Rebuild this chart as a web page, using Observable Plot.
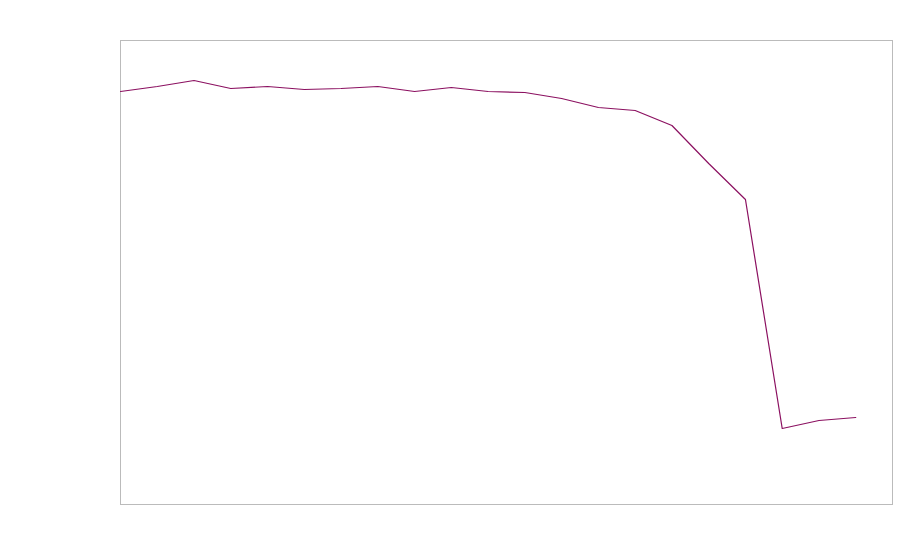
<!DOCTYPE html>
<html>
<head>
<meta charset="utf-8">
<script src="https://cdn.jsdelivr.net/npm/d3@7"></script>
<script src="https://cdn.jsdelivr.net/npm/@observablehq/plot@0.6"></script>
<style>
  html, body { margin: 0; padding: 0; background: #fff; }
</style>
</head>
<body>
<div id="chart"></div>
<script>
// Index of each observation (no labels are shown in the chart)
const periods = [0,1,2,3,4,5,6,7,8,9,10,11,12,13,14,15,16,17,18,19,20];
// Estimated values (arbitrary units)
const values = [413,418,424,416,418,415,416,418,413,417,413,412,406,397,394,379,341,305,76,84,87];

const data = periods.map((p, i) => ({period: p, value: values[i]}));

const chart = Plot.plot({
  width: 900,
  height: 560,
  marginLeft: 120,
  marginRight: 8,
  marginTop: 40,
  marginBottom: 56,
  x: {domain: [0, 21], axis: null},
  y: {domain: [0, 464], axis: null},
  marks: [
    Plot.frame({stroke: "#bbbbbb", strokeWidth: 1}),
    Plot.line(data, {x: "period", y: "value", stroke: "#8b1060", strokeWidth: 1.2})
  ]
});
document.getElementById("chart").appendChild(chart);
</script>
</body>
</html>
